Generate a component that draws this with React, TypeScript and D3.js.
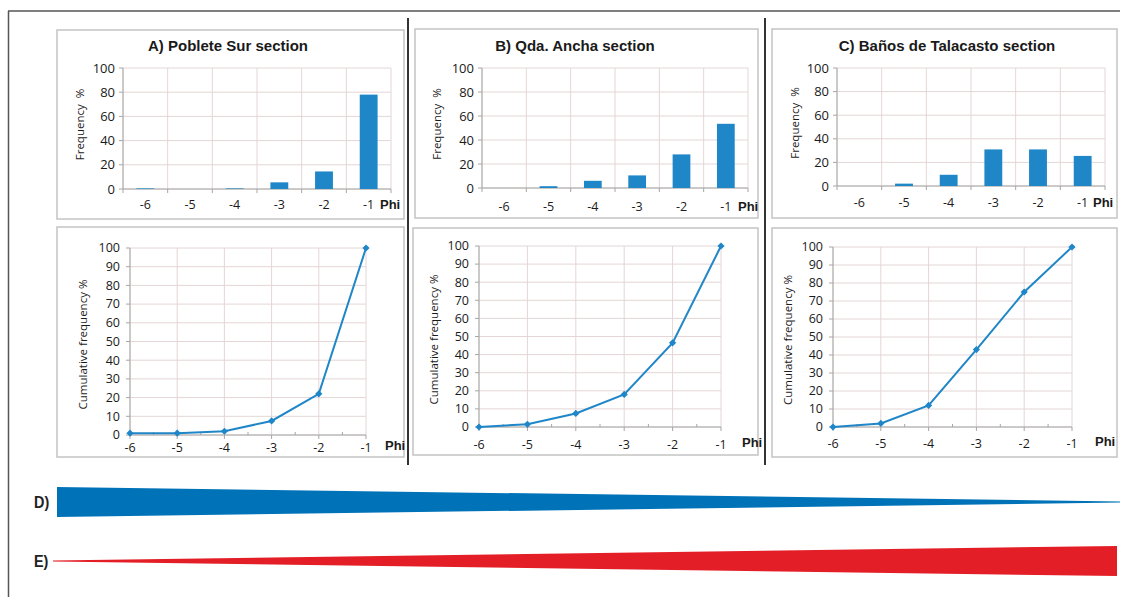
import React from 'react';
import * as d3 from 'd3';

// grain size classes (phi)
const phi = [-6, -5, -4, -3, -2, -1];

const titles = ['A) Poblete Sur section', 'B) Qda. Ancha section', 'C) Baños de Talacasto section'];

// frequency %
const freqA = [0.5, 0, 0.5, 5.5, 14.5, 78];
const freqB = [0, 1.5, 6, 10.5, 28, 53.5];
const freqC = [0, 2, 9.5, 31, 31, 25.5];

// cumulative frequency %
const cumA = [1, 1, 2, 7.5, 22, 100];
const cumB = [0, 1.5, 7.5, 18, 46.5, 100];
const cumC = [0, 2, 12, 43, 75, 100];

const freqTicks = [0, 20, 40, 60, 80, 100];
const cumTicks = [0, 10, 20, 30, 40, 50, 60, 70, 80, 90, 100];

// relative thickness of the D) and E) trend wedges, left -> right
const trendD = [1, 0.03];
const trendE = [0.03, 1];

const BLUE = '#1f86c8';
const GRID = '#e4d6d6';
const AXIS = '#a6a6a6';
const TXT = '#1a1a1a';

const tickFont = "'Open Sans', 'DejaVu Sans', sans-serif";
const titleFont = "'Liberation Sans', Arial, sans-serif";

// layout of panels
const barPanels = [
  { box: [57, 30, 404, 219], x0: 123, x1: 391, y0: 189, y1: 68, tx: 228, ly: 80, phiX: 380, labY: 205, data: freqA },
  { box: [415, 29, 758, 218], x0: 482, x1: 748, y0: 188, y1: 68, tx: 575, ly: 437, phiX: 738, labY: 207, data: freqB },
  { box: [772, 29, 1117, 218], x0: 837, x1: 1105, y0: 186, y1: 68, tx: 947, ly: 795, phiX: 1093, labY: 203, data: freqC },
];

const linePanels = [
  { box: [57, 227, 404, 457], x0: 130, x1: 366, y0: 435, y1: 248, ly: 83, phiX: 385, labY: 448, data: cumA },
  { box: [413, 228, 758, 455], x0: 479, x1: 721, y0: 427, y1: 246, ly: 434, phiX: 742, labY: 445, data: cumB },
  { box: [772, 228, 1117, 457], x0: 833, x1: 1072, y0: 427, y1: 247, ly: 788, phiX: 1095, labY: 444, data: cumC },
];

const BarPanel = ({ p, title }: any) => {
  const x = d3.scaleBand<number>().domain(phi).range([p.x0, p.x1]).padding(0);
  const y = d3.scaleLinear().domain([0, 100]).range([p.y0, p.y1]);
  const bw = x.bandwidth() * 0.4;
  const [bx0, by0, bx1, by1] = p.box;
  const bounds = phi.map(d => x(d)!).concat([p.x1]);
  return (
    <g>
      <rect x={bx0} y={by0} width={bx1 - bx0} height={by1 - by0} fill="#fff" stroke="#c4c4c4" strokeWidth={1.5} />
      <text x={p.tx} y={51} textAnchor="middle" fontFamily={titleFont} fontWeight="bold" fontSize={15} fill={TXT}>{title}</text>
      {freqTicks.map(t => (
        <line key={'h' + t} x1={p.x0} x2={p.x1} y1={y(t)} y2={y(t)} stroke={GRID} />
      ))}
      {bounds.map((b, i) => (
        <line key={'v' + i} x1={b} x2={b} y1={p.y1} y2={p.y0} stroke={GRID} />
      ))}
      <line x1={p.x0} x2={p.x0} y1={p.y1} y2={p.y0} stroke={AXIS} />
      <line x1={p.x0} x2={p.x1} y1={p.y0} y2={p.y0} stroke={AXIS} />
      {bounds.map((b, i) => (
        <line key={'t' + i} x1={b} x2={b} y1={p.y0} y2={p.y0 + 4} stroke={AXIS} />
      ))}
      {freqTicks.map(t => (
        <g key={'yl' + t}>
          <line x1={p.x0 - 4} x2={p.x0} y1={y(t)} y2={y(t)} stroke={AXIS} />
          <text x={p.x0 - 8} y={y(t)} dy="0.35em" textAnchor="end" fontFamily={tickFont} fontSize={13} fill={TXT}>{t}</text>
        </g>
      ))}
      {p.data.map((v: number, i: number) => (
        <rect key={'b' + i} x={x(phi[i])! + (x.bandwidth() - bw) / 2} y={y(v)} width={bw}
          height={Math.max(0, y(0) - y(v))} fill={BLUE} />
      ))}
      {phi.map(d => (
        <text key={'xl' + d} x={x(d)! + x.bandwidth() / 2} y={p.labY} dy="0.35em" textAnchor="middle"
          fontFamily={tickFont} fontSize={12.5} fill={TXT}>{d}</text>
      ))}
      <text x={p.phiX} y={p.labY - 1} dy="0.35em" fontFamily={titleFont} fontWeight="bold" fontSize={13} fill={TXT}>Phi</text>
      <text transform={`translate(${p.ly},${(p.y0 + p.y1) / 2 - 4}) rotate(-90)`} dy="0.35em" textAnchor="middle"
        fontFamily={tickFont} fontSize={11.5} fill={TXT} style={{ whiteSpace: 'pre' }}>{'Frequency  %'}</text>
    </g>
  );
};

const LinePanel = ({ p }: any) => {
  const x = d3.scaleLinear().domain([-6, -1]).range([p.x0, p.x1]);
  const y = d3.scaleLinear().domain([0, 100]).range([p.y0, p.y1]);
  const [bx0, by0, bx1, by1] = p.box;
  const pts = phi.map((d, i) => [d, p.data[i]] as [number, number]);
  const line = d3.line<[number, number]>().x(d => x(d[0])).y(d => y(d[1]));
  const marker = d3.symbol(d3.symbolSquare, 26)()!;
  const minor = phi.slice(0, -1).map(d => d + 0.5);
  return (
    <g>
      <rect x={bx0} y={by0} width={bx1 - bx0} height={by1 - by0} fill="#fff" stroke="#c4c4c4" strokeWidth={1.5} />
      {cumTicks.map(t => (
        <line key={'h' + t} x1={p.x0} x2={p.x1} y1={y(t)} y2={y(t)} stroke={GRID} />
      ))}
      {phi.map(d => (
        <line key={'v' + d} x1={x(d)} x2={x(d)} y1={p.y1} y2={p.y0} stroke={GRID} />
      ))}
      <line x1={p.x0} x2={p.x0} y1={p.y1} y2={p.y0} stroke={AXIS} />
      <line x1={p.x0} x2={p.x1} y1={p.y0} y2={p.y0} stroke={AXIS} />
      {phi.map(d => (
        <line key={'t' + d} x1={x(d)} x2={x(d)} y1={p.y0} y2={p.y0 + 4} stroke={AXIS} />
      ))}
      {minor.map(d => (
        <line key={'m' + d} x1={x(d)} x2={x(d)} y1={p.y0 - 3} y2={p.y0} stroke={AXIS} />
      ))}
      {cumTicks.map(t => (
        <g key={'yl' + t}>
          <line x1={p.x0 - 4} x2={p.x0} y1={y(t)} y2={y(t)} stroke={AXIS} />
          <text x={p.x0 - 10} y={y(t)} dy="0.35em" textAnchor="end" fontFamily={tickFont} fontSize={12.5} fill={TXT}>{t}</text>
        </g>
      ))}
      <path d={line(pts)!} fill="none" stroke={BLUE} strokeWidth={2} />
      {pts.map((d, i) => (
        <path key={'pt' + i} d={marker} transform={`translate(${x(d[0])},${y(d[1])}) rotate(45)`} fill={BLUE} />
      ))}
      {phi.map(d => (
        <text key={'xl' + d} x={x(d)} y={p.labY} dy="0.35em" textAnchor="middle"
          fontFamily={tickFont} fontSize={12.5} fill={TXT}>{d}</text>
      ))}
      <text x={p.phiX} y={p.labY - 3} dy="0.35em" fontFamily={titleFont} fontWeight="bold" fontSize={13} fill={TXT}>Phi</text>
      <text transform={`translate(${p.ly},${(p.y0 + p.y1) / 2 + 3}) rotate(-90)`} dy="0.35em" textAnchor="middle"
        fontFamily={tickFont} fontSize={11.5} fill={TXT}>Cumulative frequency %</text>
    </g>
  );
};

const Wedge = ({ values, x0, x1, cy, half, fill, label, lx }: any) => {
  const x = d3.scaleLinear().domain([0, values.length - 1]).range([x0, x1]);
  const t = d3.scaleLinear().domain([0, 1]).range([0, half]);
  const area = d3.area<number>()
    .x((_, i) => x(i))
    .y0(d => cy - Math.max(0.6, t(d)))
    .y1(d => cy + Math.max(0.6, t(d)));
  return (
    <g>
      <path d={area(values)!} fill={fill} />
      <text x={lx} y={cy} dy="0.36em" fontFamily={titleFont} fontWeight="bold" fontSize={16} fill="#222"
        transform={`translate(${lx},0) scale(0.9,1) translate(${-lx},0)`}>{label}</text>
    </g>
  );
};

export default function App() {
  return (
    <svg width={1126} height={597} style={{ position: 'absolute', left: 0, top: 0, background: '#fff' }}>
      <rect x={0} y={0} width={1126} height={597} fill="#fff" />
      <line x1={8} x2={1120} y1={11} y2={11} stroke="#555" strokeWidth={1.5} />
      <line x1={8.5} x2={8.5} y1={11} y2={597} stroke="#555" strokeWidth={1.5} />
      <line x1={408} x2={408} y1={18} y2={465} stroke="#333" strokeWidth={2} />
      <line x1={765} x2={765} y1={18} y2={465} stroke="#333" strokeWidth={2} />
      {barPanels.map((p, i) => <BarPanel key={'bar' + i} p={p} title={titles[i]} />)}
      {linePanels.map((p, i) => <LinePanel key={'line' + i} p={p} />)}
      <Wedge values={trendD} x0={57} x1={1120} cy={502} half={15} fill="#0073b8" label="D)" lx={34} />
      <Wedge values={trendE} x0={53} x1={1117} cy={561} half={15} fill="#e31e26" label="E)" lx={34} />
    </svg>
  );
}
